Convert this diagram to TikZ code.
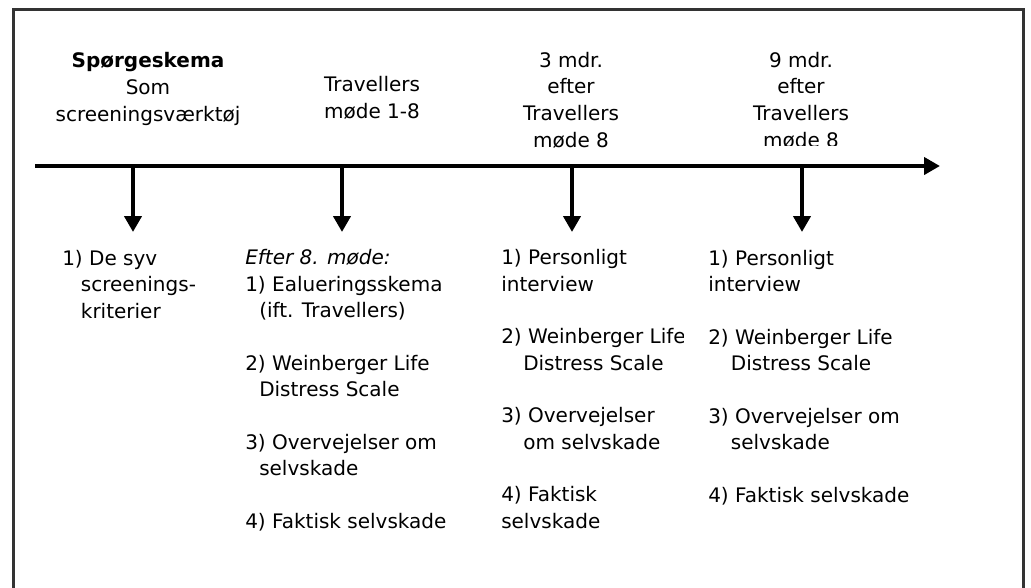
\documentclass[tikz,border=0pt]{standalone}
\usepackage{fontspec}
\setmainfont{DejaVu Sans}
\usetikzlibrary{arrows.meta}
\begin{document}
\begin{tikzpicture}[x=0.75pt,y=-0.75pt,
  axis/.style={line width=3pt, -{Triangle[length=12pt,width=12.75pt]}},
  toplabel/.style={anchor=base, align=center, inner sep=0pt, font=\fontsize{15pt}{20pt}\selectfont},
  col/.style={anchor=base west, align=left, inner sep=0pt, font=\fontsize{15pt}{19.75pt}\selectfont},
  frame/.style={draw=black!80, line width=2.25pt}]
\clip (0,0) rectangle (1031,587);
\draw[frame] (13,9) rectangle (1023,620);

% timeline
\coordinate (tlS) at (35,166);
\coordinate (tlE) at (940,166);
\draw[axis] (tlS) -- (tlE);
\foreach \i/\x in {1/133,2/342,3/572,4/802}{
  \coordinate (t\i) at (\x,166);
  \coordinate (b\i) at (\x,232);
  \draw[axis] (t\i) -- (b\i);
}

% top labels (anchor = baseline of last line)
\node[toplabel] (L1) at (148,121) {\textbf{Spørgeskema}\\Som\\screeningsværktøj};
\node[toplabel] (L2) at (372,118) {Travellers\\møde 1-8};
\node[toplabel] (L3) at (571,147) {3 mdr.\\efter\\Travellers\\møde 8};
\begin{scope}
\clip (690,30) rectangle (910,145);
\node[toplabel] (L4) at (801,147) {9 mdr.\\efter\\Travellers\\møde 8};
\end{scope}

% columns (anchor = baseline of last line)
\node[col] (C1) at (62,318) {1) De syv\\\hspace*{14pt}screenings-\\\hspace*{14pt}kriterier};
\node[col] (C2) at (245,528) {\textit{Efter 8. møde:}\\1) Ealueringsskema\\\hspace*{10.5pt}(ift. Travellers)\\[19.75pt]2) Weinberger Life\\\hspace*{10.5pt}Distress Scale\\[19.75pt]3) Overvejelser om\\\hspace*{10.5pt}selvskade\\[19.75pt]4) Faktisk selvskade};
\begin{scope}
\clip (480,240) rectangle (683,560);
\node[col] (C3) at (501,528) {1) Personligt\\interview\\[19.75pt]2) Weinberger Life\\\hspace*{16.5pt}Distress Scale\\[19.75pt]3) Overvejelser\\\hspace*{16.5pt}om selvskade\\[19.75pt]4) Faktisk\\selvskade};
\end{scope}
\node[col] (C4) at (708,502) {1) Personligt\\interview\\[19.75pt]2) Weinberger Life\\\hspace*{17pt}Distress Scale\\[19.75pt]3) Overvejelser om\\\hspace*{17pt}selvskade\\[19.75pt]4) Faktisk selvskade};
\end{tikzpicture}
\end{document}
